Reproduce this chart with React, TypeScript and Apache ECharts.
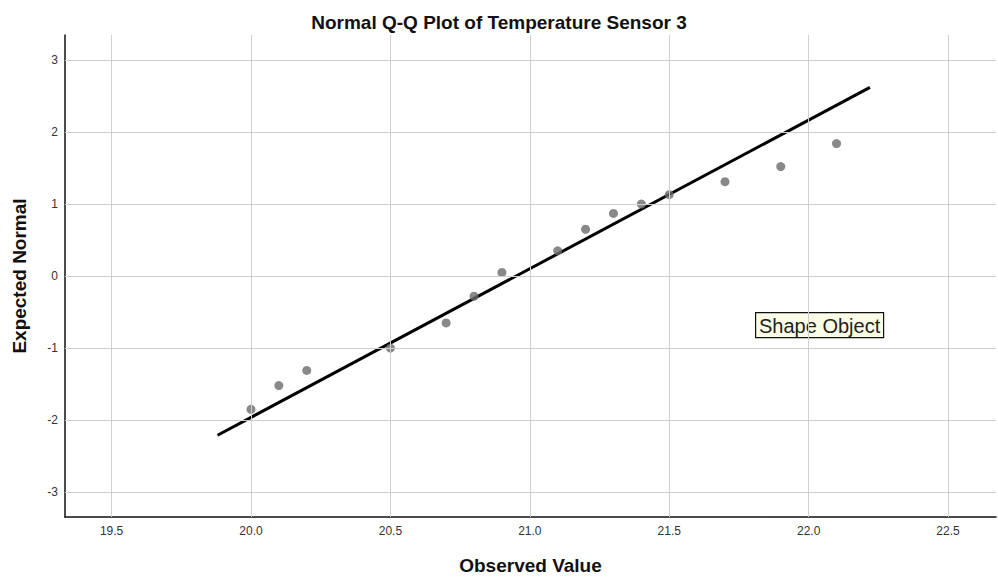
import React, { useEffect, useRef } from "react";
import * as echarts from "echarts";

const title = "Normal Q-Q Plot of Temperature Sensor 3";
const xName = "Observed Value";
const yName = "Expected Normal";
const observed = [20.0, 20.1, 20.2, 20.5, 20.7, 20.8, 20.9, 21.1, 21.2, 21.3, 21.4, 21.5, 21.7, 21.9, 22.1];
const expected = [-1.85, -1.52, -1.31, -1.0, -0.65, -0.28, 0.05, 0.35, 0.65, 0.87, 1.0, 1.13, 1.31, 1.52, 1.84];
const lineX = [19.88, 22.22];
const lineY = [-2.21, 2.62];
const xTicks = [19.5, 20.0, 20.5, 21.0, 21.5, 22.0, 22.5];
const yTicks = [-3, -2, -1, 0, 1, 2, 3];
const annotation = "Shape Object";

export default function App() {
  const ref = useRef<HTMLDivElement>(null);
  useEffect(() => {
    if (!ref.current) return;
    const chart = echarts.init(ref.current, null, { renderer: "svg" });
    const font = "Arial, 'Liberation Sans', Helvetica, sans-serif";
    chart.setOption({
      animation: false,
      backgroundColor: "#ffffff",
      title: {
        text: title,
        left: "center",
        top: 8,
        textStyle: { fontFamily: font, fontSize: 19, fontWeight: "bold", color: "#111" },
      },
      grid: { left: 65, right: 2, top: 35, bottom: 63, containLabel: false },
      xAxis: {
        type: "value",
        min: 19.333,
        max: 22.672,
        name: xName,
        nameLocation: "middle",
        nameGap: 39,
        nameTextStyle: { fontFamily: font, fontSize: 19, fontWeight: "bold", color: "#111" },
        axisLine: { show: true, onZero: false, lineStyle: { color: "#111", width: 1.5 } },
        axisTick: { show: false, customValues: xTicks },
        axisLabel: {
          customValues: xTicks,
          formatter: (v: number) => v.toFixed(1),
          fontFamily: font,
          fontSize: 12,
          color: "#333",
          margin: 8,
        },
        splitLine: { show: false },
      },
      yAxis: {
        type: "value",
        min: -3.345,
        max: 3.347,
        name: yName,
        nameLocation: "middle",
        nameGap: 36,
        nameTextStyle: { fontFamily: font, fontSize: 19, fontWeight: "bold", color: "#111" },
        axisLine: { show: true, onZero: false, lineStyle: { color: "#111", width: 1.5 } },
        axisTick: { show: false, customValues: yTicks },
        axisLabel: {
          customValues: yTicks,
          formatter: (v: number) => String(v),
          fontFamily: font,
          fontSize: 12,
          color: "#333",
          margin: 7,
        },
        splitLine: { show: false },
      },
      series: [
        {
          type: "line",
          data: [],
          silent: true,
          markLine: {
            silent: true,
            symbol: ["none", "none"],
            label: { show: false },
            lineStyle: { color: "#cfcfcf", width: 1, type: "solid" },
            data: [
              ...xTicks.map((v) => ({ xAxis: v })),
              ...yTicks.map((v) => ({ yAxis: v })),
            ],
          },
        },
        {
          type: "line",
          data: lineX.map((x, i) => [x, lineY[i]]),
          showSymbol: false,
          symbol: "none",
          lineStyle: { color: "#000", width: 3 },
          z: 3,
        },
        {
          type: "scatter",
          data: observed.map((x, i) => [x, expected[i]]),
          symbolSize: 9,
          itemStyle: { color: "#6b6b6b" },
          z: 4,
        },
      ],
      graphic: [
        {
          type: "group",
          left: 755,
          top: 312,
          children: [
            {
              type: "rect",
              shape: { x: 0, y: 0, width: 128, height: 25 },
              style: { fill: "#fbfde6", stroke: "#111", lineWidth: 1.2 },
            },
            {
              type: "text",
              x: 64,
              y: 13,
              style: {
                text: annotation,
                fontFamily: font,
                fontSize: 20,
                fill: "#222",
                align: "center",
                verticalAlign: "middle",
              },
            },
          ],
        },
      ],
    });
    return () => chart.dispose();
  }, []);
  return (
    <div
      ref={ref}
      style={{ position: "fixed", left: 0, top: 0, width: 998, height: 580, background: "#fff" }}
    />
  );
}
